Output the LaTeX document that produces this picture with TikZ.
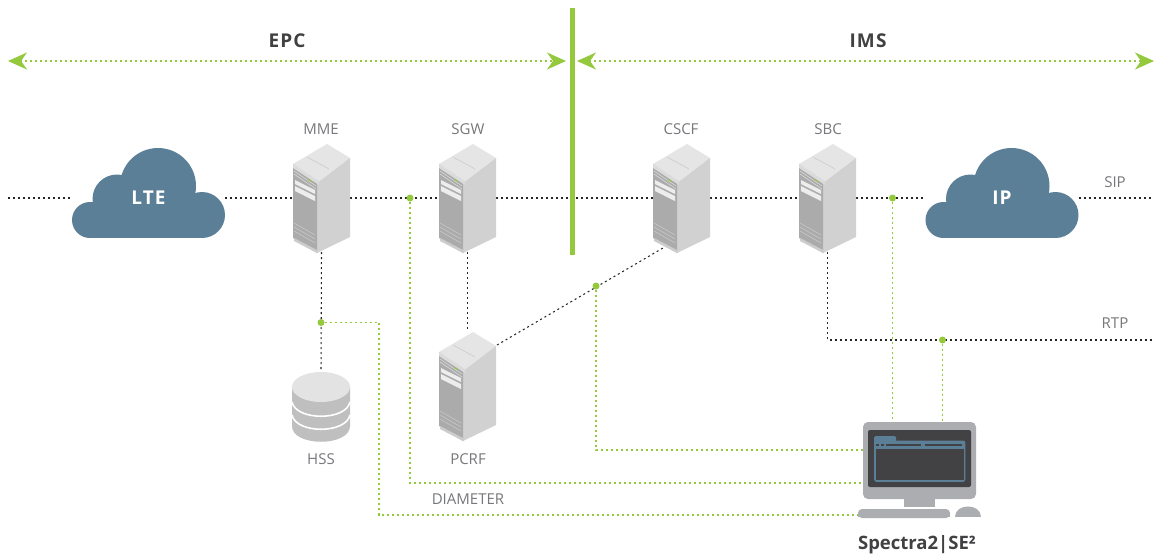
\documentclass[tikz,border=0pt]{standalone}
\usepackage{fontspec}
\setmainfont{Open Sans}
\newfontfamily\spaced[LetterSpace=6]{Open Sans}
\usetikzlibrary{arrows.meta}
\definecolor{lime}{HTML}{95C93D}
\definecolor{cloudblue}{HTML}{5C7F98}
\definecolor{labelgray}{HTML}{77787B}
\definecolor{titledark}{HTML}{414042}
\definecolor{monitorgray}{HTML}{ABADB0}
\definecolor{screendark}{HTML}{424143}
\pgfdeclarelayer{conn}\pgfdeclarelayer{art}
\pgfsetlayers{conn,art,main}
\tikzset{
  blackdot/.style={draw=black!85,line width=1.05pt,dash pattern=on 2pt off 3pt},
  greendot/.style={draw=lime,line width=1.5pt,dash pattern=on 2pt off 3pt},
  span/.style={greendot,{Stealth[length=19pt,width=17pt,inset=6pt,color=lime]}-{Stealth[length=19pt,width=17pt,inset=6pt,color=lime]}},
  junction/.style={circle,fill=lime,inner sep=0pt,minimum size=7pt},
  serverbox/.style={inner sep=0pt,minimum width=57pt,minimum height=108pt},
  cloudbox/.style={inner sep=0pt,minimum width=153pt,minimum height=40pt},
  lab/.style={text=labelgray,font=\fontsize{15}{17}\selectfont,inner sep=0pt},
  title/.style={text=titledark,font=\fontsize{19}{21}\selectfont\spaced\bfseries,inner sep=0pt},
  cloudtext/.style={text=white,font=\fontsize{19}{21}\selectfont\spaced\bfseries,inner sep=0pt},
}
\newcommand{\serverart}[2]{%
  \begin{scope}[shift={(#1,#2)}]
    \fill[black!10] (327,144) -- (350,158) -- (318,182) -- (293,164) -- cycle;
    \fill[black!18] (350,158) -- (350,237) -- (317,253) -- (317,183) -- cycle;
    \fill[black!33] (293,164) -- (317,183) -- (317,253) -- (293,238) -- cycle;
    \draw[black!22,line width=.5pt] (307,157) -- (329,169);
    \fill[black!14] (293,164) -- (319,181) -- (319,185) -- (293,168) -- cycle;
    \draw[black!14,line width=.6pt] (294,171) -- (316,186) (294,174) -- (316,189);
    \fill[black!7] (295,180) -- (315,190) -- (315,194) -- (295,184) -- cycle;
    \fill[black!7] (295,186) -- (315,196) -- (315,201) -- (295,191) -- cycle;
    \draw[black!20,line width=.5pt] (294,223) -- (315,235) (294,227) -- (315,239) (294,231) -- (315,243);
    \fill[black!20] (294,238) -- (317,250) -- (317,253) -- (294,241) -- cycle;
    \fill[lime] (308,179) -- (312,181) -- (312,182) -- (308,180) -- cycle;
  \end{scope}}
\newcommand{\cloudart}[1]{%
  \begin{scope}[shift={(#1,0)}]
    \fill[cloudblue] (158,186) circle[radius=38];
    \fill[cloudblue] (117,199) circle[radius=24.5];
    \fill[cloudblue] (90,220) circle[radius=18];
    \fill[cloudblue] (202,215) circle[radius=23];
    \fill[cloudblue] (90,202) rectangle (202,238);
  \end{scope}}
\begin{document}
\begin{tikzpicture}[x=1pt,y=-1pt]
\useasboundingbox (0,0) rectangle (1154,558);

% nodes
\node[serverbox] (mme)  at (321.5,198) {};
\node[serverbox] (sgw)  at (467.5,198) {};
\node[serverbox] (pcrf) at (467.5,386) {};
\node[serverbox] (cscf) at (681.5,198) {};
\node[serverbox] (sbc)  at (827.5,198) {};
\node[cloudbox,cloudtext] (lte) at (148.5,198) {LTE};
\node[cloudbox,cloudtext] (ip)  at (1002,198) {IP};
\node[inner sep=0pt,minimum width=58pt,minimum height=69pt] (hss) at (321,406.5) {};
\node[inner sep=0pt,minimum width=123pt,minimum height=95pt] (spectra) at (919.5,469.5) {};
\coordinate (sipL) at (8,198);
\coordinate (sipR) at (1154,198);
\coordinate (rtpR) at (1154,340);
\coordinate (rtpC) at (827.5,340);
\node[junction] (j1) at (321,322.5) {};
\node[junction] (j2) at (410,198) {};
\node[junction] (j3) at (596,286) {};
\node[junction] (j4) at (892.5,198) {};
\node[junction] (j5) at (942.5,340) {};
\coordinate (epcL) at (8,61);
\coordinate (epcR) at (566,61);
\coordinate (imsL) at (577,61);
\coordinate (imsR) at (1154,61);
\coordinate (d1) at (379,322.5);
\coordinate (d2) at (379,515);
\coordinate (d3) at (858,515);
\coordinate (e1) at (410,483);
\coordinate (e2) at (863,483);
\coordinate (f1) at (596,450);
\coordinate (f2) at (863,450);
\coordinate (g1) at (892.5,422);
\coordinate (h1) at (942.5,422);
\coordinate (pc) at (497,345);
\coordinate (cs) at (663,248);

\begin{pgfonlayer}{conn}
  \fill[white] (0,0) rectangle (1154,558);
  \draw[blackdot] (sipL) -- (lte) -- (mme) -- (sgw) -- (cscf) -- (sbc) -- (ip) -- (sipR);
  \draw[blackdot] (mme.south) -- (hss.north);
  \draw[blackdot] (sgw.south) -- (pcrf.north);
  \draw[blackdot] (pc) -- (cs);
  \draw[blackdot] (sbc.south) -- (rtpC) -- (rtpR);
  \draw[greendot] (j1) -- (d1) -- (d2) -- (d3);
  \draw[greendot] (j2) -- (e1) -- (e2);
  \draw[greendot] (j3) -- (f1) -- (f2);
  \draw[greendot] (j4) -- (g1);
  \draw[greendot] (j5) -- (h1);
  \draw[span] (epcL) -- (epcR);
  \draw[span] (imsL) -- (imsR);
\end{pgfonlayer}

\begin{pgfonlayer}{art}
  \fill[lime] (570,8) rectangle (574.5,255);
  \cloudart{0}
  \cloudart{853.5}
  \serverart{0}{0}
  \serverart{146}{0}
  \serverart{146}{188}
  \serverart{360}{0}
  \serverart{506}{0}
  % HSS
  \fill[black!25] (292,387) -- (292,426) .. controls (292,447) and (350,447) .. (350,426) -- (350,387) -- cycle;
  \fill[black!11] (321,387) ellipse[x radius=29,y radius=15];
  \draw[white,line width=1.6pt] (292,402) .. controls (296,421) and (346,421) .. (350,402);
  \draw[white,line width=1.6pt] (292,415) .. controls (296,434) and (346,434) .. (350,415);
  % monitor
  \fill[monitorgray,rounded corners=5pt] (863,422) rectangle (976,499);
  \fill[screendark,rounded corners=2pt] (868,430) rectangle (971,487);
  \fill[monitorgray] (904,499) rectangle (935,507);
  \fill[monitorgray,rounded corners=4pt] (858,518) -- (858,509) -- (950,509) -- (950,518) -- cycle;
  \fill[monitorgray] (858,513) rectangle (950,517);
  \fill[monitorgray] (955,517) .. controls (955,503) and (981,503) .. (981,517) -- cycle;
  \fill[cloudblue,rounded corners=1.5pt] (874,442) -- (874,436) -- (896,436) -- (896,442) -- cycle;
  \draw[cloudblue,line width=1.8pt,rounded corners=1.5pt] (875,441.5) rectangle (964.5,481);
  \fill[cloudblue] (874,441) rectangle (965,448.5);
  \fill[screendark] (875.9,448.5) rectangle (963.6,480.1);
  \fill[screendark] (876,443.5) rectangle (878.5,445.5);
  \fill[screendark] (881,443.5) rectangle (883.5,445.5);
  \fill[screendark] (886,443.5) rectangle (921,445.5);
  \fill[screendark] (925,443.5) rectangle (962,445.5);
\end{pgfonlayer}

% labels
\node[title] (epc) at (287,41) {EPC};
\node[title] (ims) at (868,41) {IMS};
\node[lab] (lmme) at (321,129) {MME};
\node[lab] (lsgw) at (468,129) {SGW};
\node[lab] (lcscf) at (681,129) {CSCF};
\node[lab] (lsbc) at (828,129) {SBC};
\node[lab] (lsip) at (1115,182) {SIP};
\node[lab] (lrtp) at (1115,323) {RTP};
\node[lab] (lpcrf) at (468,459) {PCRF};
\node[lab] (lhss) at (321,459) {HSS};
\node[lab] (ldia) at (468,499) {DIAMETER};
\node[text=titledark,font=\fontsize{18.5}{20}\selectfont\bfseries,inner sep=0pt] (lsp) at (917,545) {Spectra2|SE²};
\end{tikzpicture}
\end{document}
